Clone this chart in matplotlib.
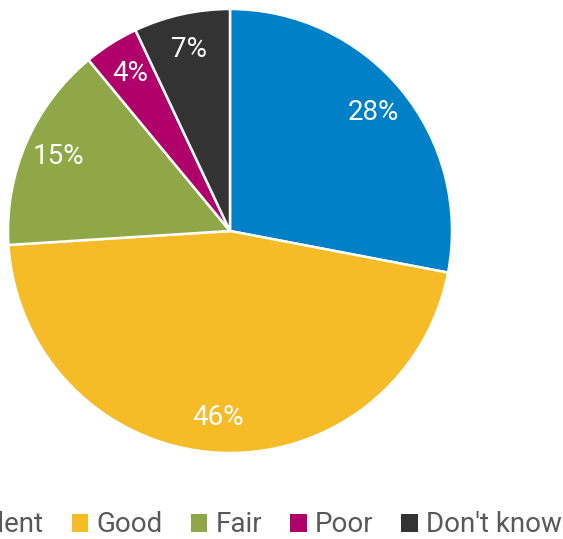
import matplotlib.pyplot as plt
from matplotlib.patches import Patch

labels = ['Excellent', 'Good', 'Fair', 'Poor', "Don't know"]
shares = [28, 46, 15, 4, 7]
colors = ['#0080C6', '#F5BC28', '#8FA746', '#B0006A', '#333333']

plt.rcParams['font.family'] = ['Roboto', 'DejaVu Sans']

W, H = 563, 539
fig = plt.figure(figsize=(W / 100, H / 100), dpi=100)

# pie centre ~ (230, 231) px, radius ~222 px
cx, cy, r = 230, 231, 222
ax = fig.add_axes([(cx - r) / W, (H - cy - r) / H, 2 * r / W, 2 * r / H])
wedges, texts, autotexts = ax.pie(
    shares, colors=colors, startangle=90, counterclock=False,
    autopct='%d%%', pctdistance=0.84,
    wedgeprops=dict(edgecolor='white', linewidth=1.8),
    textprops=dict(color='white', fontsize=20),
)
ax.set_xlim(-1, 1)
ax.set_ylim(-1, 1)
ax.set_aspect('equal')

handles = [Patch(facecolor=c, edgecolor='none') for c in colors]
fig.legend(handles, labels, loc='center', bbox_to_anchor=(235 / W, 1 - 525 / H),
           ncol=5, frameon=False, fontsize=20, labelcolor='#595959',
           handlelength=0.6, handleheight=0.6, handletextpad=0.3, columnspacing=1.0)

fig.savefig('out.png', dpi=100)
